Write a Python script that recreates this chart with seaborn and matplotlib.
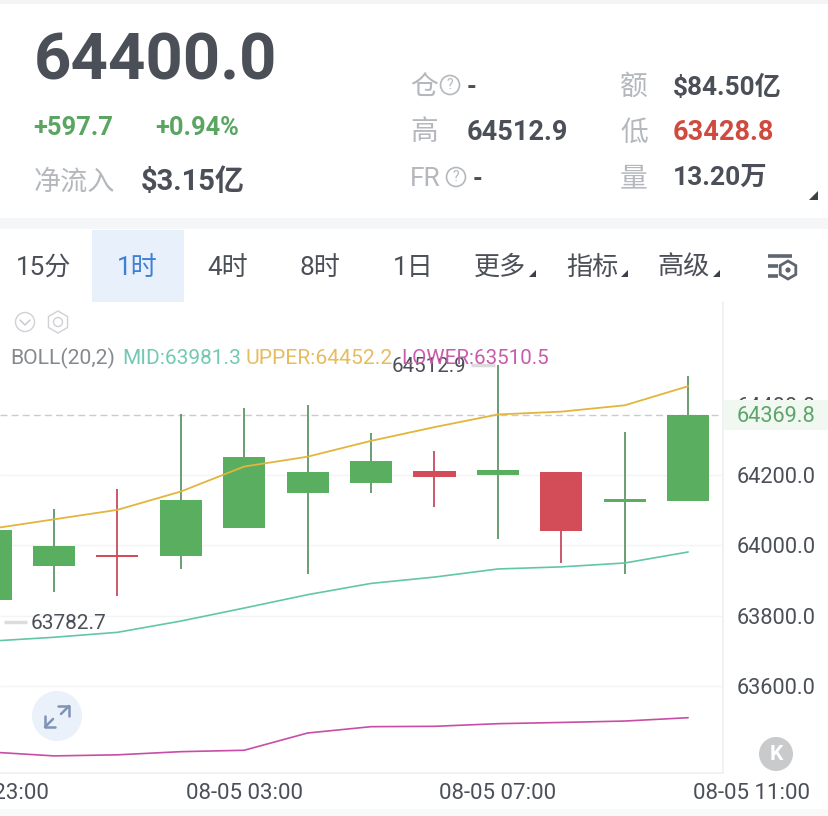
import matplotlib
matplotlib.use("Agg")
import matplotlib.pyplot as plt
from matplotlib.patches import Rectangle, Circle, RegularPolygon, Polygon
import pandas as pd
import seaborn as sns

candle_idx = [0, 1, 2, 3, 4, 5, 6, 7, 8, 9, 10, 11]
open_px = [63845, 63942, 63972, 63970, 64049, 64148, 64178, 64210.5, 64201, 64208.5, 64122, 64125]
close_px = [64045, 63999, 63967, 64129, 64252, 64209, 64239, 64194, 64214, 64040, 64132, 64369.8]
high_px = [64045, 64103, 64160, 64373, 64389.5, 64399, 64318, 64269, 64512.9, 64208.5, 64322, 64481]
low_px = [63782.7, 63868, 63857, 63933, 64049, 63919, 64148, 64108, 64018, 63950, 63918, 64125]
upper = [64047, 64074, 64101, 64153, 64224, 64252, 64297, 64336, 64372, 64380, 64398, 64452.2]
mid = [63728, 63739, 63753, 63785, 63822, 63860, 63892, 63910, 63933, 63939, 63950, 63981.3]
lower = [63413, 63402, 63405, 63414, 63418, 63467, 63485, 63486, 63493.5, 63497, 63501, 63510.5]

price_ticks = [64400, 64200, 64000, 63800, 63600]
time_pos = [0, 4, 8, 12]
time_labels = ["08-04 23:00", "08-05 03:00", "08-05 07:00", "08-05 11:00"]
tabs = ["15分", "1时", "4时", "8时", "1日", "更多", "指标", "高级"]
tab_x = [44, 137, 228, 320, 413, 500, 592, 684]

GREEN = "#5aae60"
RED = "#d24d57"
DARK = "#4b4f58"
GREY = "#b4b8bc"
W, H = 829, 816

sns.set_theme(style="white")
plt.rcParams["font.family"] = ["Roboto", "Noto Sans CJK SC", "DejaVu Sans"]

fig = plt.figure(figsize=(W / 100, H / 100), dpi=100, facecolor="white")

# price chart, axes placed to the pixel box of the screenshot
ax = fig.add_axes([0, (H - 773) / H, 723 / W, 471 / H])
ax.patch.set_alpha(0)
ax.set_xlim(0.15, 11.55)
ax.set_ylim(63353.4, 64691.5)

df = pd.DataFrame({"idx": candle_idx, "open": open_px, "close": close_px, "high": high_px,
                   "low": low_px, "upper": upper, "mid": mid, "lower": lower})
df["up"] = df["close"] >= df["open"]

ax.hlines(price_ticks[1:], 0.15, 11.55, color="#f3f4f5", lw=1, zorder=0)
ax.axhline(df["close"].iloc[-1], color="#c9cbce", lw=1, ls=(0, (5, 3)), zorder=1)

for _, row in df.iterrows():
    colour = GREEN if row["up"] else RED
    wick = "#5f9668" if row["up"] else "#c74a5e"
    ax.vlines(row["idx"], row["low"], row["high"], color=wick, lw=1.3, zorder=2)
    ax.bar(row["idx"], abs(row["close"] - row["open"]), bottom=min(row["open"], row["close"]),
           width=0.665, color=colour, lw=0, zorder=3)

sns.lineplot(data=df, x="idx", y="upper", color="#e3b53d", lw=1.3, ax=ax, zorder=4)
sns.lineplot(data=df, x="idx", y="mid", color="#62c6a8", lw=1.2, ax=ax, zorder=4)
sns.lineplot(data=df, x="idx", y="lower", color="#c94da6", lw=1.2, ax=ax, zorder=4)

ax.set_xlabel("")
ax.set_ylabel("")
ax.set_xticks([])
ax.yaxis.tick_right()
ax.set_yticks(price_ticks)
ax.set_yticklabels([f"{p:.1f}" for p in price_ticks], fontsize=15.7, color=DARK)
ax.tick_params(axis="y", length=0, pad=10)
for side, spine in ax.spines.items():
    spine.set_visible(side in ("right", "bottom"))
    spine.set_color("#eeeff0")
    spine.set_linewidth(1.2)

for pos, label in zip(time_pos, time_labels):
    ax.text(pos, -0.044, label, transform=ax.get_xaxis_transform(), ha="center", va="center",
            fontsize=16, color=DARK, clip_on=False)

# high and low markers
ax.annotate("64512.9", xy=(7.5, 64512.9), xytext=(0, -1.5), textcoords="offset points",
            ha="right", va="center", fontsize=14.8, color=DARK, annotation_clip=False, zorder=6)
ax.hlines(64512.9, 7.58, 7.95, color="#dcdcdc", lw=2.5, zorder=1)
ax.annotate("63782.7", xy=(0.64, 63782.7), xytext=(0, -1), textcoords="offset points",
            ha="left", va="center", fontsize=15, color=DARK, annotation_clip=False, zorder=6)
ax.hlines(63782.7, 0.22, 0.58, color="#dcdcdc", lw=2.5, zorder=1)

# overlay for the app furniture around the chart, in pixels
ui = fig.add_axes([0, 0, 1, 1], zorder=5)
ui.set_xlim(0, W)
ui.set_ylim(H, 0)
ui.axis("off")
ui.patch.set_alpha(0)


def txt(x, y, s, size, color=DARK, weight="normal", ha="left"):
    ui.text(x, y + 2, s, fontsize=size, color=color, fontweight=weight, ha=ha, va="center")


def tri(x, y, s=7):
    ui.add_patch(Polygon([(x, y), (x - s, y), (x, y - s)], color="#3c4048", lw=0))


def qmark(x, y):
    ui.add_patch(Circle((x, y), 9.5, fc="none", ec=GREY, lw=1.2))
    ui.text(x, y, "?", fontsize=10, color=GREY, ha="center", va="center")


ui.add_patch(Rectangle((0, 0), W, 4, color="#f3f4f5", lw=0))
ui.add_patch(Rectangle((0, 218), W, 11, color="#f5f6f7", lw=0))
ui.add_patch(Rectangle((92, 230), 92, 72, color="#e8f1fb", lw=0))
ui.add_patch(Rectangle((0, 809), W, 7, color="#f8f9f9", lw=0))

txt(34, 60, "64400.0", 47, DARK, "bold")
txt(33, 126, "+597.7", 18.4, "#5aa561", "bold")
txt(155, 126, "+0.94%", 18.4, "#5aa561", "bold")
txt(34, 180, "净流入", 19.5, GREY)
txt(141, 180, "$3.15亿", 21, DARK, "bold")

txt(410, 85, "仓", 20, GREY)
qmark(450, 85)
txt(467, 85, "-", 18, DARK, "bold")
txt(410, 131, "高", 20, GREY)
txt(467, 131, "64512.9", 19.5, DARK, "bold")
txt(410, 177, "FR", 19, GREY)
qmark(456, 177)
txt(473, 177, "-", 18, DARK, "bold")
txt(620, 85, "额", 20, GREY)
txt(673, 85, "$84.50亿", 18.8, DARK, "bold")
txt(620, 131, "低", 20, GREY)
txt(673, 131, "63428.8", 19.5, "#cf4a3f", "bold")
txt(620, 177, "量", 20, GREY)
txt(673, 176, "13.20万", 19, DARK, "bold")
tri(818, 200, 9)

for x, label in zip(tab_x, tabs):
    txt(x, 266, label, 18.8, "#3f7fd6" if label == "1时" else DARK, ha="center")
for x in [536, 628, 720]:
    tri(x, 277, 7)

# settings icon
for y, x1 in [(256, 792), (266, 778), (276, 778)]:
    ui.plot([768, x1], [y, y], color="#5f6670", lw=2.6, solid_capstyle="butt")
ui.add_patch(RegularPolygon((788, 270), 6, radius=9, fc="white", ec="#5f6670", lw=2))
ui.add_patch(Circle((788, 270), 2.6, color="#5f6670", lw=0))

# small chart controls
ui.add_patch(Circle((25, 322), 9.5, fc="white", ec="#cfd1d4", lw=1))
ui.plot([20, 25, 30], [320, 325, 320], color="#c4c6c9", lw=1)
ui.add_patch(RegularPolygon((58, 322), 6, radius=11, fc="white", ec="#cfd1d4", lw=1))
ui.add_patch(Circle((58, 322), 4.5, fc="white", ec="#cfd1d4", lw=1))

txt(10, 356, "BOLL(20,2)", 15.2, "#85888d")
txt(122, 356, "MID:63981.3", 15, "#72c9b3")
txt(246, 356, "UPPER:64452.2", 15.2, "#e6bd5e")
txt(401, 356, "LOWER:63510.5", 14.8, "#c95bab")

# last price tag sits over the 64400 tick label
ui.add_patch(Rectangle((724, 400), 105, 30, color="#f1f8f2", lw=0))
txt(737, 414, "64369.8", 15.7, "#5fa56a")

# expand and collapse buttons
ui.add_patch(Circle((57, 716), 25, color="#eaf1fa", lw=0))
ui.plot([58, 69, 69], [706, 706, 716], color="#7f93b5", lw=1.8)
ui.plot([61, 69], [714, 706], color="#7f93b5", lw=1.8)
ui.plot([45, 45, 55], [716, 727, 727], color="#7f93b5", lw=1.8)
ui.plot([45, 53], [727, 719], color="#7f93b5", lw=1.8)
ui.add_patch(Circle((776, 754), 17, color="#c9cacc", lw=0))
ui.text(776, 754, "K", fontsize=15, color="white", fontweight="bold", ha="center", va="center")

fig.savefig("out.png", dpi=100)
